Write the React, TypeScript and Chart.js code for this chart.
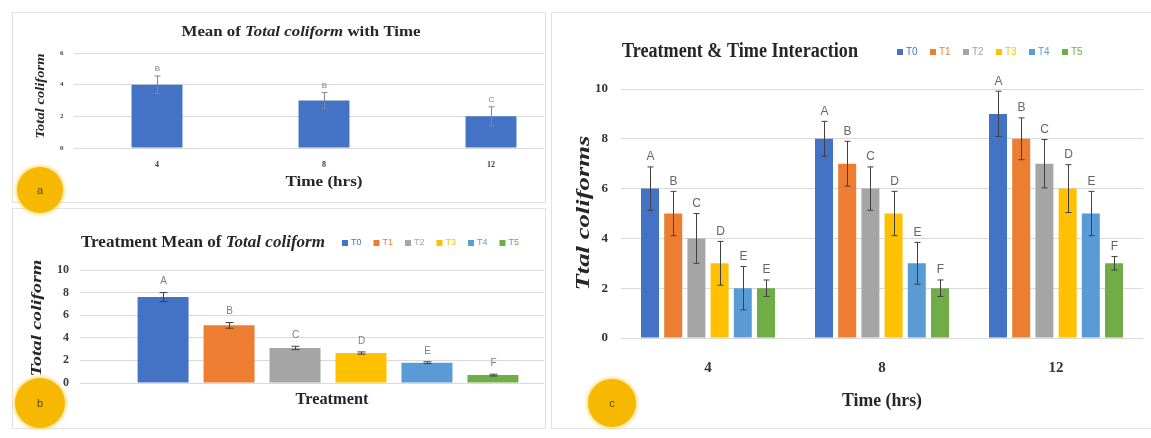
import React, { useEffect, useRef } from 'react';
import { Chart, registerables } from 'chart.js';

Chart.register(...registerables);

// ---------- data ----------
const timeLabels = ['4', '8', '12'];
const timeMeans = [4, 3, 2];
const timeErr = [0.55, 0.5, 0.6];
const timeLetters = ['B', 'B', 'C'];

const treatments = ['T0', 'T1', 'T2', 'T3', 'T4', 'T5'];
const treatmentMeans = [7.6, 5.1, 3.1, 2.65, 1.8, 0.7];
const treatmentErr = [0.4, 0.25, 0.15, 0.1, 0.08, 0.08];
const treatmentLetters = ['A', 'B', 'C', 'D', 'E', 'F'];

const t0Values = [6, 8, 9];
const t1Values = [5, 7, 8];
const t2Values = [4, 6, 7];
const t3Values = [3, 5, 6];
const t4Values = [2, 3, 5];
const t5Values = [2, 2, 3];
const t0Err = [0.87, 0.7, 0.91];
const t1Err = [0.89, 0.9, 0.84];
const t2Err = [1.0, 0.87, 0.97];
const t3Err = [0.88, 0.89, 0.96];
const t4Err = [0.87, 0.84, 0.89];
const t5Err = [0.33, 0.33, 0.27];
const lettersAt4 = ['A', 'B', 'C', 'D', 'E', 'E'];
const lettersAt8 = ['A', 'B', 'C', 'D', 'E', 'F'];
const lettersAt12 = ['A', 'B', 'C', 'D', 'E', 'F'];

const colors = ['#4472C4', '#ED7D31', '#A5A5A5', '#FFC000', '#5B9BD5', '#70AD47'];

const SERIF = '"Liberation Serif", "Times New Roman", serif';
const SANS = '"Liberation Sans", Arial, sans-serif';

// ---------- helpers ----------
type Seg = { text: string; font: string };
type TextItem = {
  x: number; y: number; segs: Seg[]; color?: string; rotate?: number; width?: number; align?: 'left' | 'center';
};

function drawText(ctx: CanvasRenderingContext2D, t: TextItem) {
  ctx.save();
  ctx.translate(t.x, t.y);
  if (t.rotate) ctx.rotate(t.rotate);
  const widths = t.segs.map((s) => {
    ctx.font = s.font;
    return ctx.measureText(s.text).width;
  });
  const total = widths.reduce((a, b) => a + b, 0);
  const sx = t.width ? t.width / total : 1;
  ctx.scale(sx, 1);
  let x = t.align === 'left' ? 0 : -total / 2;
  ctx.textBaseline = 'middle';
  ctx.textAlign = 'left';
  ctx.fillStyle = t.color || '#262626';
  t.segs.forEach((s, i) => {
    ctx.font = s.font;
    ctx.fillText(s.text, x, 0);
    x += widths[i];
  });
  ctx.restore();
}

type LegendCfg = { x: number; y: number; pitch: number; box: number; gap: number; font: string; textColor?: string };

function makeDecor(texts: TextItem[], legend?: LegendCfg) {
  return {
    id: 'decor',
    afterDraw(chart: any) {
      const ctx = chart.ctx as CanvasRenderingContext2D;
      texts.forEach((t) => drawText(ctx, t));
      if (legend) {
        chart.data.datasets.forEach((ds: any, i: number) => {
          const cx = legend.x + i * legend.pitch;
          ctx.save();
          ctx.fillStyle = ds.backgroundColor;
          ctx.fillRect(cx - legend.box / 2, legend.y - legend.box / 2, legend.box, legend.box);
          ctx.font = legend.font;
          ctx.textAlign = 'left';
          ctx.textBaseline = 'middle';
          ctx.fillStyle = legend.textColor || ds.backgroundColor;
          ctx.fillText(ds.label, cx + legend.box / 2 + legend.gap, legend.y);
          ctx.restore();
        });
      }
    },
  };
}

type ErrCfg = { errors: number[][]; letters: string[][]; cap: number; color: string; font: string; letterColor: string; gap: number };

function makeErrors(cfg: ErrCfg) {
  return {
    id: 'errbars',
    afterDatasetsDraw(chart: any) {
      const ctx = chart.ctx as CanvasRenderingContext2D;
      const ys = chart.scales.y;
      chart.data.datasets.forEach((ds: any, di: number) => {
        const meta = chart.getDatasetMeta(di);
        meta.data.forEach((el: any, i: number) => {
          const v = ds.data[i];
          const e = cfg.errors[di][i];
          const x = Math.round(el.x) + 0.5;
          const hi = ys.getPixelForValue(v + e);
          const lo = ys.getPixelForValue(Math.max(0, v - e));
          ctx.save();
          ctx.strokeStyle = cfg.color;
          ctx.lineWidth = 1;
          ctx.beginPath();
          ctx.moveTo(x, hi);
          ctx.lineTo(x, lo);
          ctx.moveTo(x - cfg.cap / 2, hi);
          ctx.lineTo(x + cfg.cap / 2, hi);
          ctx.moveTo(x - cfg.cap / 2, lo);
          ctx.lineTo(x + cfg.cap / 2, lo);
          ctx.stroke();
          ctx.font = cfg.font;
          ctx.fillStyle = cfg.letterColor;
          ctx.textAlign = 'center';
          ctx.textBaseline = 'middle';
          ctx.fillText(cfg.letters[di][i], x, hi - cfg.gap);
          ctx.restore();
        });
      });
    },
  };
}

function ChartCanvas({ width, height, makeConfig }: { width: number; height: number; makeConfig: () => any }) {
  const ref = useRef<HTMLCanvasElement | null>(null);
  useEffect(() => {
    if (!ref.current) return;
    const chart = new Chart(ref.current, makeConfig());
    return () => chart.destroy();
  }, []);
  return <canvas ref={ref} width={width} height={height} style={{ display: 'block', width, height }} />;
}

const noPlugins = { legend: { display: false }, tooltip: { enabled: false }, title: { display: false } };

// ---------- panel a ----------
function configA() {
  return {
    type: 'bar',
    data: {
      labels: timeLabels,
      datasets: [{ label: 'Mean', data: timeMeans, backgroundColor: colors[0], barPercentage: 0.305, categoryPercentage: 1 }],
    },
    options: {
      animation: false,
      responsive: false,
      layout: { padding: { left: 0, right: 28.5, top: 40, bottom: 22 } },
      plugins: noPlugins,
      scales: {
        x: {
          grid: { display: false, drawTicks: false },
          border: { display: false },
          ticks: { font: { family: SERIF, size: 8, weight: 'bold' }, color: '#404040', padding: 12 },
          afterFit: (s: any) => { s.height = 30; },
        },
        y: {
          min: 0, max: 6,
          ticks: { stepSize: 2, font: { family: SERIF, size: 7, weight: 'bold' }, color: '#404040', padding: 10 },
          grid: { color: '#d9d9d9', drawTicks: false },
          border: { display: false },
          afterFit: (s: any) => { s.width = 60.5; },
        },
      },
    },
    plugins: [
      makeErrors({ errors: [timeErr], letters: [timeLetters], cap: 6, color: '#7a869a', font: `8px ${SANS}`, letterColor: '#7f7f7f', gap: 7 }),
      makeDecor([
        {
          x: 288, y: 19, width: 239, color: '#262626',
          segs: [
            { text: 'Mean of ', font: `bold 14px ${SERIF}` },
            { text: 'Total coliform', font: `italic bold 14px ${SERIF}` },
            { text: ' with Time', font: `bold 14px ${SERIF}` },
          ],
        },
        { x: 311, y: 169, width: 77, segs: [{ text: 'Time (hrs)', font: `bold 14px ${SERIF}` }] },
        { x: 28, y: 83, width: 85, rotate: -Math.PI / 2, segs: [{ text: 'Total coliform', font: `italic bold 12px ${SERIF}` }] },
      ]),
    ],
  };
}

// ---------- panel b ----------
function configB() {
  return {
    type: 'bar',
    data: {
      labels: [''],
      datasets: treatments.map((t, i) => ({
        label: t, data: [treatmentMeans[i]], backgroundColor: colors[i], barPercentage: 0.773, categoryPercentage: 0.798,
      })),
    },
    options: {
      animation: false,
      responsive: false,
      layout: { padding: { left: 0, right: 27, top: 60, bottom: 0 } },
      plugins: noPlugins,
      scales: {
        x: {
          grid: { display: false, drawTicks: false },
          border: { display: false },
          ticks: { display: false },
          afterFit: (s: any) => { s.height = 45; },
        },
        y: {
          min: 0, max: 10,
          ticks: { stepSize: 2, font: { family: SERIF, size: 12, weight: 'bold' }, color: '#404040', padding: 11 },
          grid: { color: '#d9d9d9', drawTicks: false },
          border: { display: false },
          afterFit: (s: any) => { s.width = 67; },
        },
      },
    },
    plugins: [
      makeErrors({
        errors: treatmentErr.map((e) => [e]), letters: treatmentLetters.map((l) => [l]),
        cap: 8, color: '#404040', font: `10px ${SANS}`, letterColor: '#7f7f7f', gap: 11,
      }),
      makeDecor(
        [
          {
            x: 68, y: 33, width: 244, align: 'left', color: '#262626',
            segs: [
              { text: 'Treatment Mean of ', font: `bold 16px ${SERIF}` },
              { text: 'Total coliform', font: `italic bold 16px ${SERIF}` },
            ],
          },
          { x: 319, y: 190, width: 73, segs: [{ text: 'Treatment', font: `bold 16px ${SERIF}` }] },
          { x: 24, y: 108, width: 117, rotate: -Math.PI / 2, segs: [{ text: 'Total coliform', font: `italic bold 15px ${SERIF}` }] },
        ],
        { x: 332, y: 33, pitch: 31.5, box: 6, gap: 3, font: `9px ${SANS}` }
      ),
    ],
  };
}

// ---------- panel c ----------
function configC() {
  const vals = [t0Values, t1Values, t2Values, t3Values, t4Values, t5Values];
  const errs = [t0Err, t1Err, t2Err, t3Err, t4Err, t5Err];
  const letters = treatments.map((_, i) => [lettersAt4[i], lettersAt8[i], lettersAt12[i]]);
  return {
    type: 'bar',
    data: {
      labels: timeLabels,
      datasets: treatments.map((t, i) => ({
        label: t, data: vals[i], backgroundColor: colors[i], barPercentage: 0.776, categoryPercentage: 0.8,
      })),
    },
    options: {
      animation: false,
      responsive: false,
      layout: { padding: { left: 0, right: 8, top: 76, bottom: 0 } },
      plugins: noPlugins,
      scales: {
        x: {
          grid: { display: false, drawTicks: false },
          border: { display: false },
          ticks: { font: { family: SERIF, size: 15, weight: 'bold' }, color: '#333333', padding: 21 },
          afterFit: (s: any) => { s.height = 90; },
        },
        y: {
          min: 0, max: 10,
          ticks: { stepSize: 2, font: { family: SERIF, size: 13, weight: 'bold' }, color: '#333333', padding: 13 },
          grid: { color: '#d9d9d9', drawTicks: false },
          border: { display: false },
          afterFit: (s: any) => { s.width = 68; },
        },
      },
    },
    plugins: [
      makeErrors({ errors: errs, letters, cap: 6, color: '#404040', font: `12px ${SANS}`, letterColor: '#666666', gap: 10 }),
      makeDecor(
        [
          { x: 69, y: 39, width: 236, align: 'left', color: '#262626', segs: [{ text: 'Treatment & Time Interaction', font: `bold 20px ${SERIF}` }] },
          { x: 329, y: 388, width: 80, segs: [{ text: 'Time (hrs)', font: `bold 19px ${SERIF}` }] },
          { x: 31, y: 200, width: 155, rotate: -Math.PI / 2, segs: [{ text: 'Ttal coliforms', font: `italic bold 19px ${SERIF}` }] },
        ],
        { x: 347, y: 39, pitch: 33, box: 6, gap: 3, font: `10px ${SANS}` }
      ),
    ],
  };
}

function Badge({ x, y, r, letter }: { x: number; y: number; r: number; letter: string }) {
  return (
    <div
      style={{
        position: 'absolute', left: x - r, top: y - r, width: 2 * r, height: 2 * r, borderRadius: '50%',
        background: '#F6B800', boxShadow: '0 0 3px 2px rgba(250,205,60,0.55)', display: 'flex',
        alignItems: 'center', justifyContent: 'center', fontFamily: SANS, fontSize: 11, color: '#5a4300',
      }}
    >
      {letter}
    </div>
  );
}

export default function App() {
  const border = '1px solid #e2e2e2';
  return (
    <div style={{ position: 'fixed', left: 0, top: 0, width: 1151, height: 438, background: '#ffffff', overflow: 'hidden' }}>
      <div style={{ position: 'absolute', left: 12, top: 12, width: 534, height: 191, border, boxSizing: 'border-box' }} />
      <div style={{ position: 'absolute', left: 12, top: 208, width: 534, height: 221, border, boxSizing: 'border-box' }} />
      <div style={{ position: 'absolute', left: 551, top: 12, width: 602, height: 417, border, boxSizing: 'border-box' }} />

      <div style={{ position: 'absolute', left: 13, top: 13, width: 531, height: 187, overflow: 'hidden' }}>
        <ChartCanvas width={590} height={187} makeConfig={configA} />
      </div>
      <div style={{ position: 'absolute', left: 13, top: 210, width: 531, height: 218, overflow: 'hidden' }}>
        <ChartCanvas width={590} height={218} makeConfig={configB} />
      </div>
      <div style={{ position: 'absolute', left: 553, top: 13, width: 598, height: 415, overflow: 'hidden' }}>
        <ChartCanvas width={598} height={415} makeConfig={configC} />
      </div>

      <Badge x={40} y={190} r={23} letter="a" />
      <Badge x={40} y={403} r={25} letter="b" />
      <Badge x={612} y={403} r={24} letter="c" />
    </div>
  );
}
